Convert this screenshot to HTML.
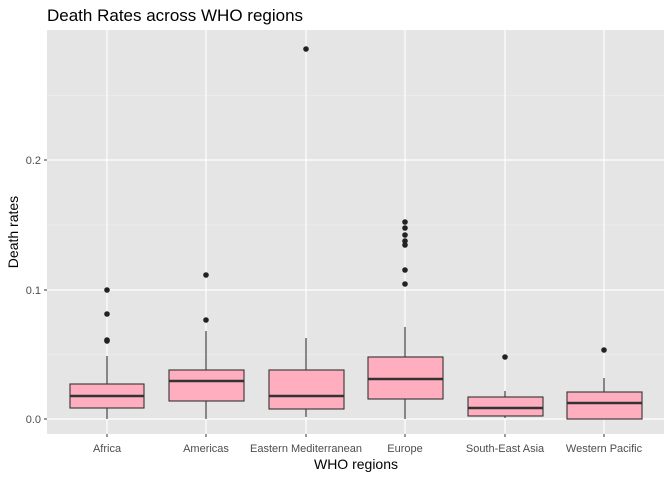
<!DOCTYPE html>
<html><head><meta charset="utf-8"><style>body{margin:0;background:#fff}</style></head><body>
<svg width="672" height="480" xmlns="http://www.w3.org/2000/svg" font-family="Liberation Sans, Arial, sans-serif">
<rect x="47" y="30" width="617" height="404" fill="#e5e5e5"/>
<g stroke="#f2f2f2" stroke-width="0.6">
<line x1="47" x2="664" y1="354.5" y2="354.5"/><line x1="47" x2="664" y1="225" y2="225"/><line x1="47" x2="664" y1="95.5" y2="95.5"/>
</g>
<g stroke="#fff" stroke-width="1.2">
<line x1="47" x2="664" y1="419" y2="419"/><line x1="47" x2="664" y1="290" y2="290"/><line x1="47" x2="664" y1="160" y2="160"/>
<line x1="107" x2="107" y1="30" y2="434"/><line x1="206" x2="206" y1="30" y2="434"/><line x1="306" x2="306" y1="30" y2="434"/><line x1="405" x2="405" y1="30" y2="434"/><line x1="505" x2="505" y1="30" y2="434"/><line x1="604" x2="604" y1="30" y2="434"/>
</g>
<g stroke="#333" stroke-width="1.1" fill="#ffaec0">
<line x1="107" x2="107" y1="356" y2="419"/><rect x="70" y="384" width="74" height="24"/><line x1="70" x2="144" y1="396" y2="396" stroke-width="2.5"/>
<line x1="206" x2="206" y1="331" y2="419"/><rect x="169" y="370" width="75" height="31"/><line x1="169" x2="244" y1="381" y2="381" stroke-width="2.5"/>
<line x1="306" x2="306" y1="338" y2="417"/><rect x="269" y="370" width="75" height="39"/><line x1="269" x2="344" y1="396" y2="396" stroke-width="2.5"/>
<line x1="405" x2="405" y1="327" y2="419"/><rect x="368" y="357" width="75" height="42"/><line x1="368" x2="443" y1="379" y2="379" stroke-width="2.5"/>
<line x1="505" x2="505" y1="391" y2="418"/><rect x="468" y="397" width="75" height="19"/><line x1="468" x2="543" y1="408" y2="408" stroke-width="2.5"/>
<line x1="604" x2="604" y1="378" y2="419"/><rect x="567" y="392" width="75" height="27"/><line x1="567" x2="642" y1="403" y2="403" stroke-width="2.5"/>
</g>
<g fill="#222">
<circle cx="107" cy="290" r="2.8"/><circle cx="107" cy="314" r="2.8"/><circle cx="107" cy="340" r="2.8"/><circle cx="107" cy="341" r="2.8"/>
<circle cx="206" cy="275" r="2.8"/><circle cx="206" cy="320" r="2.8"/>
<circle cx="306" cy="49" r="2.8"/>
<circle cx="405" cy="284" r="2.8"/><circle cx="405" cy="270" r="2.8"/><circle cx="405" cy="245" r="2.8"/><circle cx="405" cy="241" r="2.8"/><circle cx="405" cy="235" r="2.8"/><circle cx="405" cy="228" r="2.8"/><circle cx="405" cy="222" r="2.8"/>
<circle cx="505" cy="357" r="2.8"/><circle cx="604" cy="350" r="2.8"/>
</g>
<g stroke="#333" stroke-width="1">
<line x1="44" x2="47" y1="419" y2="419"/><line x1="44" x2="47" y1="290" y2="290"/><line x1="44" x2="47" y1="160" y2="160"/>
<line x1="107" x2="107" y1="434" y2="437"/><line x1="206" x2="206" y1="434" y2="437"/><line x1="306" x2="306" y1="434" y2="437"/><line x1="405" x2="405" y1="434" y2="437"/><line x1="505" x2="505" y1="434" y2="437"/><line x1="604" x2="604" y1="434" y2="437"/>
</g>
<g font-size="11" fill="#4d4d4d" text-anchor="end">
<text x="41" y="423">0.0</text><text x="41" y="294">0.1</text><text x="41" y="164">0.2</text>
</g>
<g font-size="11" fill="#4d4d4d" text-anchor="middle">
<text x="107" y="452">Africa</text><text x="206" y="452">Americas</text><text x="306" y="452">Eastern Mediterranean</text><text x="405" y="452">Europe</text><text x="505" y="452">South-East Asia</text><text x="604" y="452">Western Pacific</text>
</g>
<text x="356" y="469" font-size="14" text-anchor="middle" fill="#000">WHO regions</text>
<text transform="translate(18,232) rotate(-90)" font-size="14" text-anchor="middle" fill="#000">Death rates</text>
<text x="47" y="21" font-size="17" fill="#000">Death Rates across WHO regions</text>
</svg>
</body></html>
